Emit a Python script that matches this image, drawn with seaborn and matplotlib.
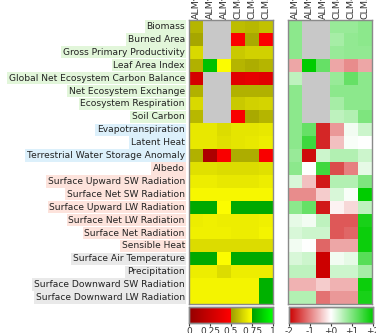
import numpy as np
import pandas as pd
import matplotlib
matplotlib.use("Agg")
import matplotlib.pyplot as plt
from matplotlib.colors import ListedColormap, LinearSegmentedColormap
import seaborn as sns

nan = np.nan

variables = [
    "Biomass", "Burned Area", "Gross Primary Productivity", "Leaf Area Index",
    "Global Net Ecosystem Carbon Balance", "Net Ecosystem Exchange",
    "Ecosystem Respiration", "Soil Carbon", "Evapotranspiration", "Latent Heat",
    "Terrestrial Water Storage Anomaly", "Albedo", "Surface Upward SW Radiation",
    "Surface Net SW Radiation", "Surface Upward LW Radiation",
    "Surface Net LW Radiation", "Surface Net Radiation", "Sensible Heat",
    "Surface Air Temperature", "Precipitation", "Surface Downward SW Radiation",
    "Surface Downward LW Radiation",
]
groups = (["eco"] * 8) + (["hydro"] * 3) + (["rad"] * 7) + (["forcing"] * 4)

models = ["ALMv1-BGC", "ALMv1-SP", "ALMv1-SPfix", "CLM4.0cn", "CLM4.5bgc", "CLM5.0bgc"]

overall_scores = [
    [0.56, nan, nan, 0.58, 0.57, 0.59],
    [0.52, nan, nan, 0.48, 0.53, 0.48],
    [0.65, nan, nan, 0.61, 0.63, 0.63],
    [0.55, 0.84, 0.74, 0.56, 0.54, 0.56],
    [0.30, nan, nan, 0.36, 0.38, 0.36],
    [0.55, nan, nan, 0.55, 0.55, 0.55],
    [0.65, nan, nan, 0.61, 0.63, 0.64],
    [0.57, nan, nan, 0.47, 0.53, 0.56],
    [0.69, 0.69, 0.66, 0.68, 0.68, 0.69],
    [0.69, 0.69, 0.67, 0.68, 0.69, 0.70],
    [0.55, 0.12, 0.47, 0.54, 0.54, 0.47],
    [0.67, 0.67, 0.66, 0.66, 0.66, 0.67],
    [0.70, 0.70, 0.69, 0.69, 0.69, 0.70],
    [0.73, 0.73, 0.73, 0.73, 0.73, 0.73],
    [0.78, 0.78, 0.74, 0.78, 0.78, 0.78],
    [0.70, 0.71, 0.70, 0.70, 0.70, 0.71],
    [0.71, 0.71, 0.71, 0.70, 0.70, 0.72],
    [0.66, 0.66, 0.66, 0.66, 0.66, 0.66],
    [0.78, 0.78, 0.74, 0.78, 0.78, 0.78],
    [0.70, 0.70, 0.66, 0.70, 0.70, 0.70],
    [0.72, 0.72, 0.72, 0.72, 0.72, 0.80],
    [0.72, 0.72, 0.72, 0.72, 0.72, 0.80],
]

relative_scores = [
    [0.9, nan, nan, 0.8, 0.8, 0.9],
    [0.9, nan, nan, 0.7, 0.85, 0.9],
    [0.9, nan, nan, 0.8, 0.85, 0.85],
    [-0.7, 2.0, 1.2, -0.7, -0.9, -0.7],
    [0.5, nan, nan, 0.8, 1.2, 0.9],
    [0.9, nan, nan, 0.9, 0.9, 0.9],
    [0.9, nan, nan, 0.7, 0.9, 0.9],
    [0.9, nan, nan, 0.5, 0.6, 1.0],
    [0.9, 1.2, -1.7, -0.8, 0.1, 0.4],
    [0.9, 1.5, -1.7, -0.5, 0.05, 0.0],
    [0.8, -1.9, 0.4, 0.6, 0.6, 0.4],
    [0.9, 0.0, 1.5, -1.4, -1.0, 0.2],
    [0.3, -0.5, -1.8, 0.6, 0.6, 1.0],
    [-0.9, -0.9, -0.4, 0.3, 0.05, 2.0],
    [0.9, 1.2, -1.8, -0.1, -0.3, 0.5],
    [0.2, 0.1, 0.5, -1.3, -1.3, 1.8],
    [0.3, 0.4, 0.4, -1.3, -1.2, 1.9],
    [0.1, 0.0, -1.2, -0.7, -0.7, 1.9],
    [0.3, 0.4, -2.0, 0.1, 0.2, 1.3],
    [0.5, 0.5, -2.0, 0.4, 0.4, 0.7],
    [-0.6, -0.6, -0.4, -0.6, -0.6, 1.9],
    [0.6, 0.6, -1.1, -0.8, -0.8, 1.8],
]

group_colors = {"eco": "#e2f6da", "hydro": "#dcf0fb", "rad": "#fde3dc", "forcing": "#e9e9e9"}

# score colormap: dark red -> red, olive -> yellow, dark green -> green
def ramp(c0, c1, n):
    c0, c1 = np.array(c0), np.array(c1)
    t = np.linspace(0, 1, n)[:, None]
    return c0 + (c1 - c0) * t

score_colors = np.vstack([
    ramp((0.58, 0.0, 0.0), (1.0, 0.0, 0.0), 128),
    ramp((0.62, 0.62, 0.0), (1.0, 1.0, 0.0), 64),
    ramp((0.0, 0.62, 0.0), (0.0, 1.0, 0.0), 64),
])
score_cmap = ListedColormap(score_colors)
rel_cmap = LinearSegmentedColormap.from_list("rel", ["#cc0000", "#ffffff", "#00cc00"])

overall_df = pd.DataFrame(overall_scores, index=variables, columns=models)
relative_df = pd.DataFrame(relative_scores, index=variables, columns=models)

W, H = 376, 333
fig = plt.figure(figsize=(W / 100, H / 100), dpi=100)

def box(x0, y0, x1, y1):
    return [x0 / W, 1 - y1 / H, (x1 - x0) / W, (y1 - y0) / H]

ax1 = fig.add_axes(box(189, 20, 273, 304))
ax2 = fig.add_axes(box(288, 20, 372, 304))
cax1 = fig.add_axes(box(189, 307, 273, 323))
cax2 = fig.add_axes(box(289, 307, 373, 323))

frame = "#8a8a8a"
for ax in (ax1, ax2):
    ax.set_facecolor("#c8c8c8")

sns.heatmap(overall_df, ax=ax1, cmap=score_cmap, vmin=0, vmax=1,
            cbar_ax=cax1, cbar_kws={"orientation": "horizontal", "ticks": [0, 0.25, 0.5, 0.75, 1]})
sns.heatmap(relative_df, ax=ax2, cmap=rel_cmap, vmin=-2, vmax=2,
            cbar_ax=cax2, cbar_kws={"orientation": "horizontal", "ticks": [-2, -1, 0, 1, 2]})

for ax in (ax1, ax2):
    ax.xaxis.tick_top()
    ax.set_xticks(np.arange(len(models)) + 0.5)
    ax.set_xticklabels(models, rotation=90, fontsize=6.8, color="#333333")
    ax.tick_params(axis="x", length=0, pad=1)
    ax.set_xlabel("")
    ax.set_ylabel("")
    for s in ax.spines.values():
        s.set_visible(True)
        s.set_color(frame)
        s.set_linewidth(1.0)

ax1.set_yticks(np.arange(len(variables)) + 0.5)
ax1.set_yticklabels(variables, fontsize=6.6, color="#222222")
ax1.tick_params(axis="y", length=0, pad=3)
for lbl, g in zip(ax1.get_yticklabels(), groups):
    lbl.set_bbox(dict(facecolor=group_colors[g], edgecolor="none", pad=1.2))
ax2.set_yticks([])

cax1.set_xticklabels(["0", "0.25", "0.5", "0.75", "1"])
cax2.set_xticklabels(["-2", "-1", "+0", "+1", "+2"])
for cax in (cax1, cax2):
    cax.tick_params(axis="x", labelsize=6.5, length=2, pad=1, colors="#333333")
    for s in cax.spines.values():
        s.set_visible(True)
        s.set_color(frame)
        s.set_linewidth(1.0)

fig.savefig("out.png", dpi=100)
